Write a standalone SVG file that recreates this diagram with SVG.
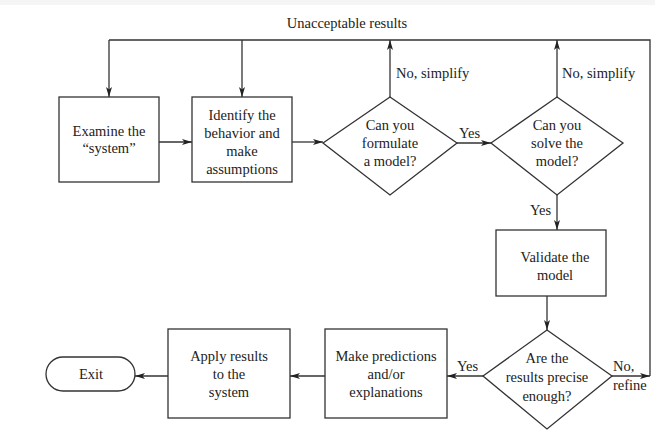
<svg xmlns="http://www.w3.org/2000/svg" width="655" height="440" viewBox="0 0 655 440">
<defs>
<marker id="ah" viewBox="0 0 10 6" refX="10" refY="3" markerWidth="10" markerHeight="6" markerUnits="userSpaceOnUse" orient="auto">
<path d="M0,0 L10,3 L0,6 L2.5,3 Z" fill="#222"/>
</marker>
<style>
.b{fill:#fff;stroke:#333;stroke-width:1.3}
.c{fill:none;stroke:#333;stroke-width:1.3}
.a{marker-end:url(#ah)}
text{font-family:"Liberation Serif","Times New Roman",serif;font-size:14.5px;fill:#222}
.m{text-anchor:middle}
</style>
</defs>
<rect x="0" y="0" width="655" height="440" fill="#fff"/>
<rect x="0" y="0" width="655" height="5" fill="#f5f5f5"/>
<g id="connectors">
<path class="c" d="M109,40 H650 V376"/>
<path class="c a" d="M109,40 V97"/>
<path class="c a" d="M242,40 V97"/>
<path class="c a" d="M390,97 V40"/>
<path class="c a" d="M557,97 V40"/>
<path class="c a" d="M159,142 H192"/>
<path class="c a" d="M292,142 H323"/>
<path class="c a" d="M457,143 H491"/>
<path class="c a" d="M557,195 V230"/>
<path class="c a" d="M547,296 V330"/>
<path class="c a" d="M612,376 H650"/>
<path class="c a" d="M483,376 H447"/>
<path class="c a" d="M325,376 H290"/>
<path class="c a" d="M168,376 H135"/>
<text x="347" y="28" class="m">Unacceptable results</text>
<text x="396" y="78">No, simplify</text>
<text x="562" y="78">No, simplify</text>
<text x="459" y="138">Yes</text>
<text x="530" y="215">Yes</text>
<text x="457" y="371">Yes</text>
<text x="613" y="371">No,</text>
<text x="613" y="390">refine</text>
</g>
<g id="examine">
<rect class="b" x="59" y="97" width="100" height="85"/>
<text x="109" y="136" class="m">Examine the</text>
<text x="109" y="153" class="m">“system”</text>
</g>
<g id="identify">
<rect class="b" x="192" y="97" width="100" height="85"/>
<text x="242" y="120" class="m">Identify the</text>
<text x="242" y="138" class="m">behavior and</text>
<text x="242" y="156" class="m">make</text>
<text x="242" y="174" class="m">assumptions</text>
</g>
<g id="formulate">
<polygon class="b" points="390,97 457,143 390,195 323,143"/>
<text x="390" y="130" class="m">Can you</text>
<text x="390" y="148" class="m">formulate</text>
<text x="390" y="166" class="m">a model?</text>
</g>
<g id="solve">
<polygon class="b" points="557,97 623,143 557,195 491,143"/>
<text x="557" y="130" class="m">Can you</text>
<text x="557" y="148" class="m">solve the</text>
<text x="557" y="166" class="m">model?</text>
</g>
<g id="validate">
<rect class="b" x="496" y="230" width="110" height="66"/>
<text x="555" y="262" class="m">Validate the</text>
<text x="555" y="280" class="m">model</text>
</g>
<g id="precise">
<polygon class="b" points="547,330 612,376 547,429 483,376"/>
<text x="547" y="363" class="m">Are the</text>
<text x="547" y="382" class="m">results precise</text>
<text x="547" y="401" class="m">enough?</text>
</g>
<g id="predict">
<rect class="b" x="325" y="329" width="122" height="89"/>
<text x="386" y="361" class="m">Make predictions</text>
<text x="386" y="379" class="m">and/or</text>
<text x="386" y="397" class="m">explanations</text>
</g>
<g id="apply">
<rect class="b" x="168" y="329" width="122" height="89"/>
<text x="229" y="361" class="m">Apply results</text>
<text x="229" y="379" class="m">to the</text>
<text x="229" y="397" class="m">system</text>
</g>
<g id="exit">
<rect class="b" x="46" y="357" width="89" height="34" rx="17" ry="17"/>
<text x="91" y="379" class="m">Exit</text>
</g>
</svg>
